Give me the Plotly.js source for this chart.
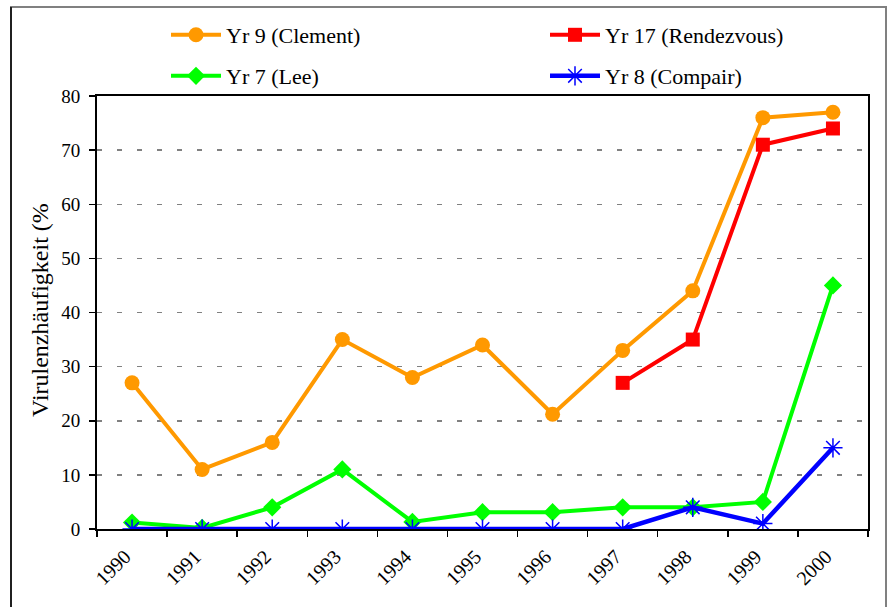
<!DOCTYPE html>
<html>
<head>
<meta charset="utf-8">
<script src="https://cdn.plot.ly/plotly-3.0.1.min.js"></script>
<style>html,body{margin:0;padding:0;background:#fff;}#chart{width:888px;height:607px;}</style>
</head>
<body>
<div id="chart"></div>
<script>
// Data
const years = ["1990","1991","1992","1993","1994","1995","1996","1997","1998","1999","2000"];
const clement = [27, 11, 16, 35, 28, 34, 21.2, 33, 44, 76, 77];
const rendezvousYears = ["1997","1998","1999","2000"];
const rendezvous = [27, 35, 71, 74];
const lee = [1.2, 0.2, 4, 11, 1.3, 3.1, 3.1, 4, 4, 5, 45];
const compair = [0, 0, 0, 0, 0, 0, 0, 0, 4, 1, 15];

const FONT = "Liberation Serif";
const L = 97, T = 96, W = 771, H = 433;
const px = x => (x - L) / W;
const py = y => (T + H - y) / H;

const traces = [
  {name: "Yr 9 (Clement)", x: years, y: clement, type: "scatter", mode: "lines+markers",
   line: {color: "#FF9900", width: 4}, marker: {symbol: "circle", size: 15, color: "#FF9900"}, legend: "legend"},
  {name: "Yr 17 (Rendezvous)", x: rendezvousYears, y: rendezvous, type: "scatter", mode: "lines+markers",
   line: {color: "#FF0000", width: 4}, marker: {symbol: "square", size: 14, color: "#FF0000"}, legend: "legend2"},
  {name: "Yr 7 (Lee)", x: years, y: lee, type: "scatter", mode: "lines+markers",
   line: {color: "#00FF00", width: 4}, marker: {symbol: "diamond", size: 14, color: "#00FF00"}, legend: "legend3"},
  {name: "Yr 8 (Compair)", x: years, y: compair, type: "scatter", mode: "lines+markers",
   line: {color: "#0000FF", width: 4.5}, marker: {symbol: "asterisk-open", size: 16, color: "#0000FF", line: {color: "#0000FF", width: 1.5}}, legend: "legend4"}
];

function leg(xp, yp) {
  return {
    orientation: "v", xanchor: "left", yanchor: "middle", x: px(xp), y: py(yp),
    itemwidth: 50,
    font: {family: FONT, size: 22, color: "#000"}, bgcolor: "rgba(0,0,0,0)", borderwidth: 0
  };
}

const layout = {
  width: 888, height: 607,
  margin: {l: L, r: 888 - L - W, t: T, b: 607 - T - H, pad: 0},
  paper_bgcolor: "#fff", plot_bgcolor: "#fff",
  font: {family: FONT, size: 18, color: "#000"},
  showlegend: true,
  legend: leg(166, 35),
  legend2: leg(545, 35),
  legend3: leg(166, 76),
  legend4: leg(545, 76),
  xaxis: {
    type: "category", categoryorder: "array", categoryarray: years, range: [-0.5, 10.5],
    tickson: "boundaries", ticks: "outside", ticklen: 6, tickwidth: 1.5, tickcolor: "#000",
    tickangle: -45, tickfont: {family: FONT, size: 20, color: "#000"},
    ticklabelstandoff: 6, ticklabelshift: -7,
    showline: true, linecolor: "#000", linewidth: 2, mirror: true,
    showgrid: false, zeroline: false, fixedrange: true
  },
  yaxis: {
    range: [0, 80], dtick: 10, tick0: 0, ticks: "outside", ticklen: 6, tickwidth: 1.5, tickcolor: "#000",
    tickfont: {family: FONT, size: 19, color: "#000"}, ticklabelstandoff: 5,
    showline: true, linecolor: "#000", linewidth: 2, mirror: true,
    showgrid: true, gridcolor: "#808080", gridwidth: 1.5, griddash: "5px,15px",
    zeroline: false, fixedrange: true
  },
  annotations: [{
    text: "Virulenzhäufigkeit (%", textangle: -90, showarrow: false,
    xref: "paper", yref: "paper", x: px(40), y: py(310), xanchor: "center", yanchor: "middle",
    font: {family: FONT, size: 24, color: "#000"}
  }],
  shapes: [
    {type: "rect", xref: "paper", yref: "paper", x0: px(11), x1: px(886), y0: py(640), y1: py(7),
     line: {color: "#808080", width: 2}, fillcolor: "rgba(0,0,0,0)", layer: "below"},
    {type: "line", xref: "paper", yref: "paper", x0: px(11), x1: px(11), y0: py(640), y1: py(7),
     line: {color: "#000", width: 1.5}}
  ]
};

Plotly.newPlot("chart", traces, layout, {displayModeBar: false, staticPlot: true});
</script>
</body>
</html>
